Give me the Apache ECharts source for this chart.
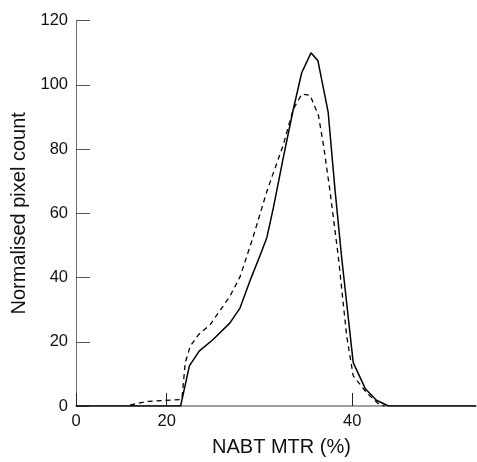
<!DOCTYPE html>
<html><head><meta charset="utf-8">
<script src="https://cdn.jsdelivr.net/npm/echarts@6/dist/echarts.min.js"></script>
<style>html,body{margin:0;padding:0;background:#fff}#c{width:477px;height:462px}</style>
</head><body><div id="c"></div>
<script>
// Solid curve
const solidX = [10.23, 21.5, 22.45, 23.5, 25.0, 26.8, 27.9, 29.0, 30.05, 30.8, 31.5, 32.55, 33.65, 34.55, 35.55, 36.3, 37.4, 38.15, 38.85, 40.1, 41.4, 42.6, 43.9, 53.33];
const solidY = [0, 0, 12.5, 17.1, 20.7, 25.8, 30.5, 39.2, 46.8, 52.5, 61.8, 77.1, 92.5, 103.8, 110, 107.5, 91.5, 67, 46.4, 13.5, 5.4, 1.8, 0, 0];
// Dashed curve
const dashX = [16.05, 17.85, 21.4, 21.65, 22.0, 22.55, 23.45, 24.7, 26.8, 27.9, 29.3, 30.8, 32.55, 33.65, 34.55, 35.45, 36.35, 36.9, 37.6, 38.5, 39.4, 40.1, 41.5, 42.2, 42.9, 43.5];
const dashY = [0.3, 1.4, 2.0, 2.4, 13.5, 18.7, 22.3, 25.4, 34.1, 40.2, 52.5, 66.9, 81.2, 92.5, 97.1, 96.8, 90.5, 81.2, 66.9, 46.4, 21.7, 9.4, 4.3, 2.3, 0.5, 0];
// Axis ticks
const xTickValues = [10.23, 20, 40];
const xTickLabels = ['0', '20', '40'];
const yTickValues = [0, 20, 40, 60, 80, 100, 120];

const pair = (xs, ys) => xs.map((x, i) => [x, ys[i]]);
const FONT = 'Liberation Sans, Arial, sans-serif';

const chart = echarts.init(document.getElementById('c'), null, {renderer: 'canvas'});
chart.setOption({
  animation: false,
  backgroundColor: '#fff',
  grid: {left: 76, top: 20.7, width: 400, bottom: 51.3, containLabel: false},
  xAxis: {
    type: 'value', min: 10.23, max: 53.33,
    axisLine: {show: true, lineStyle: {color: '#808080', width: 1.5}},
    axisTick: {show: true, inside: true, length: 13, customValues: xTickValues, lineStyle: {color: '#222', width: 1}},
    axisLabel: {customValues: xTickValues, margin: 7, fontSize: 16.5, color: '#111', fontFamily: FONT,
      formatter: v => { const i = xTickValues.indexOf(v); return i >= 0 ? xTickLabels[i] : ''; }},
    splitLine: {show: false},
    name: 'NABT MTR (%)', nameLocation: 'middle', nameGap: 31,
    nameTextStyle: {fontSize: 20, color: '#111', fontFamily: FONT, padding: [0, 0, 0, 11]}
  },
  yAxis: {
    type: 'value', min: 0, max: 120,
    axisLine: {show: true, lineStyle: {color: '#707070', width: 1}},
    axisTick: {show: true, inside: true, length: 14, customValues: yTickValues, lineStyle: {color: '#555', width: 1}},
    axisLabel: {customValues: yTickValues, margin: 8, fontSize: 16.5, color: '#111', fontFamily: FONT},
    splitLine: {show: false},
    name: 'Normalised pixel count', nameLocation: 'middle', nameGap: 41,
    nameTextStyle: {fontSize: 20, color: '#111', fontFamily: FONT}
  },
  series: [
    {type: 'line', data: pair(dashX, dashY), showSymbol: false, z: 2,
      lineStyle: {color: '#000', width: 1.3, type: [5, 4]}},
    {type: 'line', data: pair(solidX, solidY), showSymbol: false, z: 3,
      lineStyle: {color: '#000', width: 1.5}}
  ]
});
</script></body></html>
